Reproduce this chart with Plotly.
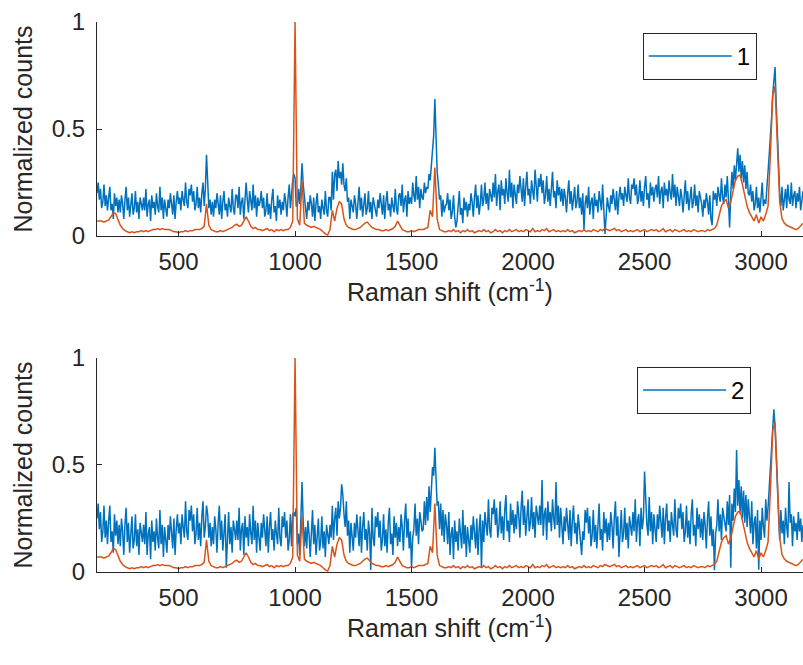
import plotly.graph_objects as go

# Raman shift grids (cm^-1)
SAMPLE_SHIFT = list(range(150, 3181, 5))      # measured spectra 1 and 2
REF_SHIFT = list(range(150, 3181, 10))        # reference spectrum

# Sample spectrum 1 (top panel), normalized counts
SPECTRUM_1 = [
    0.20, 0.25, 0.17, 0.22, 0.13, 0.16, 0.24, 0.14, 0.19, 0.12, 0.18, 0.23, 0.12, 0.15, 0.08, 0.20, 0.14, 0.18, 0.11, 0.17,
    0.11, 0.19, 0.15, 0.08, 0.17, 0.23, 0.12, 0.18, 0.09, 0.14, 0.20, 0.10, 0.13, 0.21, 0.11, 0.16, 0.08, 0.18, 0.15, 0.12,
    0.18, 0.12, 0.22, 0.09, 0.15, 0.17, 0.07, 0.19, 0.13, 0.16, 0.10, 0.20, 0.14, 0.11, 0.23, 0.12, 0.18, 0.08, 0.17, 0.13,
    0.09, 0.17, 0.13, 0.20, 0.16, 0.10, 0.19, 0.08, 0.16, 0.21, 0.15, 0.18, 0.12, 0.21, 0.17, 0.14, 0.25, 0.16, 0.13, 0.22,
    0.19, 0.24, 0.16, 0.21, 0.12, 0.15, 0.23, 0.13, 0.18, 0.11, 0.20, 0.25, 0.14, 0.22, 0.38, 0.20, 0.13, 0.17, 0.10, 0.16,
    0.09, 0.17, 0.13, 0.20, 0.16, 0.10, 0.19, 0.08, 0.16, 0.21, 0.12, 0.15, 0.09, 0.18, 0.14, 0.11, 0.22, 0.13, 0.10, 0.19,
    0.19, 0.13, 0.23, 0.10, 0.16, 0.18, 0.08, 0.20, 0.25, 0.17, 0.11, 0.21, 0.15, 0.12, 0.24, 0.13, 0.19, 0.09, 0.18, 0.14,
    0.16, 0.21, 0.13, 0.18, 0.09, 0.12, 0.20, 0.10, 0.15, 0.08, 0.17, 0.22, 0.11, 0.14, 0.07, 0.19, 0.13, 0.17, 0.10, 0.16,
    0.12, 0.20, 0.16, 0.09, 0.18, 0.24, 0.13, 0.21, 0.26, 0.29, 0.27, 0.14, 0.14, 0.22, 0.15, 0.23, 0.34, 0.24, 0.16, 0.13,
    0.08, 0.16, 0.12, 0.19, 0.15, 0.09, 0.18, 0.07, 0.15, 0.20, 0.11, 0.14, 0.08, 0.17, 0.13, 0.10, 0.21, 0.12, 0.09, 0.18,
    0.18, 0.12, 0.30, 0.17, 0.29, 0.31, 0.21, 0.35, 0.27, 0.30, 0.24, 0.34, 0.24, 0.21, 0.27, 0.16, 0.18, 0.08, 0.17, 0.13,
    0.11, 0.19, 0.15, 0.08, 0.17, 0.23, 0.12, 0.18, 0.09, 0.14, 0.20, 0.10, 0.13, 0.21, 0.11, 0.16, 0.08, 0.18, 0.15, 0.12,
    0.09, 0.17, 0.13, 0.20, 0.16, 0.10, 0.19, 0.08, 0.16, 0.21, 0.12, 0.15, 0.09, 0.18, 0.14, 0.11, 0.22, 0.13, 0.10, 0.19,
    0.20, 0.14, 0.24, 0.11, 0.17, 0.19, 0.09, 0.21, 0.15, 0.18, 0.15, 0.25, 0.19, 0.16, 0.28, 0.17, 0.23, 0.13, 0.22, 0.18,
    0.17, 0.25, 0.20, 0.23, 0.22, 0.29, 0.26, 0.33, 0.38, 0.47, 0.64, 0.45, 0.30, 0.24, 0.17, 0.19, 0.09, 0.17, 0.11, 0.14,
    0.15, 0.20, 0.12, 0.17, 0.08, 0.11, 0.19, 0.09, 0.04, 0.07, 0.16, 0.21, 0.10, 0.13, 0.06, 0.18, 0.12, 0.16, 0.09, 0.15,
    0.12, 0.20, 0.16, 0.09, 0.18, 0.24, 0.13, 0.19, 0.10, 0.15, 0.24, 0.14, 0.17, 0.25, 0.15, 0.20, 0.12, 0.22, 0.19, 0.16,
    0.25, 0.18, 0.29, 0.14, 0.21, 0.24, 0.12, 0.26, 0.19, 0.22, 0.15, 0.27, 0.20, 0.16, 0.31, 0.18, 0.25, 0.13, 0.24, 0.19,
    0.15, 0.24, 0.20, 0.28, 0.23, 0.16, 0.27, 0.14, 0.23, 0.30, 0.19, 0.22, 0.15, 0.26, 0.21, 0.17, 0.31, 0.20, 0.16, 0.27,
    0.23, 0.29, 0.20, 0.26, 0.15, 0.19, 0.28, 0.16, 0.22, 0.14, 0.24, 0.30, 0.18, 0.21, 0.13, 0.26, 0.19, 0.23, 0.16, 0.22,
    0.14, 0.22, 0.18, 0.11, 0.20, 0.26, 0.15, 0.21, 0.12, 0.17, 0.23, 0.13, 0.16, 0.24, 0.13, 0.18, 0.10, 0.20, 0.03, 0.15,
    0.19, 0.13, 0.23, 0.10, 0.16, 0.18, 0.08, 0.20, 0.14, 0.17, 0.11, 0.21, 0.15, 0.12, 0.24, 0.13, 0.01, 0.09, 0.18, 0.14,
    0.11, 0.19, 0.15, 0.22, 0.18, 0.12, 0.21, 0.10, 0.18, 0.23, 0.17, 0.20, 0.14, 0.23, 0.19, 0.16, 0.27, 0.18, 0.15, 0.24,
    0.22, 0.27, 0.19, 0.24, 0.15, 0.18, 0.26, 0.16, 0.21, 0.14, 0.23, 0.28, 0.17, 0.20, 0.13, 0.25, 0.19, 0.23, 0.16, 0.22,
    0.24, 0.18, 0.28, 0.15, 0.21, 0.23, 0.13, 0.25, 0.19, 0.22, 0.16, 0.26, 0.20, 0.17, 0.29, 0.18, 0.24, 0.14, 0.23, 0.19,
    0.14, 0.22, 0.18, 0.11, 0.20, 0.26, 0.15, 0.21, 0.12, 0.17, 0.23, 0.13, 0.16, 0.24, 0.14, 0.19, 0.11, 0.21, 0.18, 0.15,
    0.09, 0.17, 0.13, 0.20, 0.16, 0.10, 0.19, 0.08, 0.05, 0.21, 0.17, 0.20, 0.14, 0.23, 0.19, 0.16, 0.27, 0.18, 0.15, 0.24,
    0.18, 0.28, 0.17, 0.04, 0.20, 0.30, 0.22, 0.33, 0.26, 0.37, 0.41, 0.30, 0.38, 0.27, 0.35, 0.25, 0.33, 0.22, 0.30, 0.20,
    0.19, 0.24, 0.16, 0.21, 0.12, 0.15, 0.23, 0.13, 0.18, 0.11, 0.20, 0.25, 0.14, 0.17, 0.15, 0.26, 0.30, 0.38, 0.45, 0.55,
    0.66, 0.72, 0.79, 0.62, 0.48, 0.30, 0.20, 0.14, 0.23, 0.12, 0.18, 0.22, 0.13, 0.24, 0.17, 0.15, 0.25, 0.14, 0.19, 0.21,
    0.13, 0.20, 0.16, 0.23, 0.12, 0.18, 0.21,
]

# Sample spectrum 2 (bottom panel), normalized counts
SPECTRUM_2 = [
    0.25, 0.32, 0.20, 0.28, 0.14, 0.19, 0.31, 0.16, 0.24, 0.13, 0.24, 0.31, 0.14, 0.19, 0.09, 0.27, 0.17, 0.24, 0.13, 0.22,
    0.12, 0.25, 0.19, 0.08, 0.22, 0.30, 0.14, 0.23, 0.09, 0.17, 0.26, 0.11, 0.15, 0.27, 0.12, 0.20, 0.08, 0.23, 0.19, 0.14,
    0.22, 0.13, 0.28, 0.08, 0.18, 0.21, 0.06, 0.24, 0.14, 0.19, 0.10, 0.25, 0.16, 0.11, 0.29, 0.13, 0.22, 0.07, 0.21, 0.14,
    0.09, 0.22, 0.15, 0.26, 0.20, 0.11, 0.25, 0.08, 0.20, 0.27, 0.18, 0.23, 0.13, 0.27, 0.21, 0.16, 0.33, 0.19, 0.15, 0.29,
    0.24, 0.31, 0.19, 0.27, 0.13, 0.18, 0.30, 0.15, 0.23, 0.12, 0.26, 0.33, 0.16, 0.21, 0.31, 0.27, 0.16, 0.23, 0.12, 0.21,
    0.13, 0.26, 0.20, 0.09, 0.23, 0.31, 0.15, 0.24, 0.10, 0.18, 0.27, 0.02, 0.16, 0.28, 0.13, 0.21, 0.09, 0.24, 0.20, 0.15,
    0.24, 0.15, 0.30, 0.10, 0.20, 0.23, 0.08, 0.26, 0.16, 0.21, 0.12, 0.27, 0.18, 0.13, 0.31, 0.15, 0.24, 0.09, 0.23, 0.16,
    0.10, 0.23, 0.16, 0.27, 0.21, 0.12, 0.26, 0.09, 0.21, 0.28, 0.15, 0.20, 0.10, 0.24, 0.18, 0.13, 0.30, 0.16, 0.12, 0.26,
    0.21, 0.28, 0.16, 0.24, 0.10, 0.15, 0.27, 0.12, 0.27, 0.28, 0.26, 0.30, 0.13, 0.18, 0.08, 0.26, 0.42, 0.23, 0.12, 0.21,
    0.11, 0.24, 0.18, 0.07, 0.21, 0.29, 0.13, 0.22, 0.08, 0.16, 0.25, 0.10, 0.14, 0.26, 0.11, 0.19, 0.07, 0.22, 0.18, 0.13,
    0.22, 0.16, 0.31, 0.15, 0.25, 0.30, 0.17, 0.33, 0.25, 0.30, 0.41, 0.36, 0.27, 0.21, 0.33, 0.17, 0.24, 0.09, 0.23, 0.16,
    0.10, 0.23, 0.16, 0.27, 0.21, 0.12, 0.26, 0.09, 0.21, 0.28, 0.15, 0.20, 0.10, 0.24, 0.18, 0.01, 0.30, 0.16, 0.12, 0.26,
    0.21, 0.28, 0.16, 0.24, 0.10, 0.15, 0.27, 0.12, 0.20, 0.09, 0.23, 0.30, 0.13, 0.18, 0.08, 0.26, 0.16, 0.23, 0.12, 0.21,
    0.14, 0.27, 0.21, 0.10, 0.24, 0.32, 0.16, 0.25, 0.11, 0.19, 0.02, 0.16, 0.20, 0.32, 0.17, 0.25, 0.13, 0.28, 0.24, 0.19,
    0.20, 0.33, 0.22, 0.35, 0.24, 0.40, 0.28, 0.43, 0.49, 0.45, 0.58, 0.44, 0.31, 0.33, 0.20, 0.32, 0.17, 0.29, 0.14, 0.27,
    0.22, 0.13, 0.28, 0.08, 0.18, 0.21, 0.06, 0.24, 0.14, 0.19, 0.10, 0.25, 0.16, 0.11, 0.29, 0.13, 0.22, 0.07, 0.21, 0.14,
    0.09, 0.22, 0.15, 0.26, 0.20, 0.11, 0.25, 0.08, 0.20, 0.27, 0.02, 0.24, 0.14, 0.28, 0.22, 0.17, 0.34, 0.20, 0.16, 0.30,
    0.27, 0.34, 0.22, 0.30, 0.16, 0.21, 0.33, 0.18, 0.26, 0.15, 0.29, 0.36, 0.19, 0.24, 0.14, 0.32, 0.22, 0.29, 0.18, 0.27,
    0.20, 0.33, 0.27, 0.16, 0.30, 0.38, 0.22, 0.31, 0.17, 0.25, 0.34, 0.19, 0.23, 0.35, 0.20, 0.28, 0.16, 0.31, 0.27, 0.22,
    0.31, 0.22, 0.43, 0.17, 0.27, 0.30, 0.15, 0.33, 0.23, 0.28, 0.19, 0.34, 0.25, 0.20, 0.42, 0.22, 0.31, 0.16, 0.30, 0.23,
    0.13, 0.26, 0.19, 0.30, 0.24, 0.15, 0.29, 0.12, 0.24, 0.31, 0.18, 0.23, 0.13, 0.27, 0.21, 0.16, 0.08, 0.19, 0.15, 0.29,
    0.23, 0.30, 0.18, 0.26, 0.12, 0.17, 0.29, 0.14, 0.22, 0.11, 0.25, 0.32, 0.15, 0.20, 0.10, 0.28, 0.18, 0.25, 0.14, 0.23,
    0.15, 0.28, 0.22, 0.11, 0.25, 0.33, 0.17, 0.26, 0.07, 0.20, 0.29, 0.14, 0.18, 0.30, 0.15, 0.23, 0.11, 0.26, 0.22, 0.17,
    0.28, 0.19, 0.34, 0.14, 0.24, 0.27, 0.12, 0.30, 0.20, 0.25, 0.47, 0.31, 0.22, 0.17, 0.35, 0.19, 0.28, 0.13, 0.27, 0.20,
    0.14, 0.27, 0.20, 0.31, 0.25, 0.16, 0.30, 0.13, 0.25, 0.32, 0.19, 0.24, 0.14, 0.28, 0.22, 0.17, 0.34, 0.20, 0.16, 0.30,
    0.25, 0.32, 0.20, 0.28, 0.14, 0.19, 0.31, 0.16, 0.24, 0.13, 0.27, 0.34, 0.17, 0.22, 0.12, 0.30, 0.20, 0.27, 0.16, 0.25,
    0.15, 0.28, 0.22, 0.11, 0.25, 0.33, 0.17, 0.26, 0.12, 0.20, 0.01, 0.18, 0.22, 0.34, 0.19, 0.27, 0.15, 0.30, 0.26, 0.21,
    0.19, 0.33, 0.22, 0.36, 0.02, 0.32, 0.24, 0.39, 0.28, 0.57, 0.31, 0.43, 0.27, 0.40, 0.25, 0.38, 0.23, 0.36, 0.21, 0.34,
    0.27, 0.18, 0.33, 0.13, 0.23, 0.26, 0.11, 0.29, 0.01, 0.24, 0.15, 0.30, 0.21, 0.16, 0.34, 0.24, 0.30, 0.40, 0.45, 0.58,
    0.70, 0.76, 0.68, 0.52, 0.38, 0.27, 0.15, 0.29, 0.18, 0.24, 0.13, 0.30, 0.21, 0.16, 0.42, 0.23, 0.27, 0.12, 0.26, 0.19,
    0.23, 0.15, 0.28, 0.19, 0.25, 0.14, 0.22,
]

# Reference spectrum (orange, drawn in both panels), normalized counts
REFERENCE = [
    0.07, 0.07, 0.07, 0.065, 0.07, 0.075, 0.09, 0.11, 0.105, 0.08,
    0.05, 0.035, 0.025, 0.02, 0.015, 0.02, 0.015, 0.02, 0.02, 0.025,
    0.02, 0.025, 0.02, 0.025, 0.03, 0.03, 0.035, 0.03, 0.035, 0.03,
    0.03, 0.03, 0.025, 0.02, 0.02, 0.015, 0.02, 0.02, 0.025, 0.02,
    0.025, 0.025, 0.03, 0.03, 0.03, 0.035, 0.045, 0.15, 0.05, 0.03,
    0.025, 0.02, 0.02, 0.025, 0.02, 0.025, 0.03, 0.035, 0.04, 0.05,
    0.055, 0.045, 0.05, 0.07, 0.09, 0.07, 0.045, 0.035, 0.04, 0.03,
    0.03, 0.025, 0.03, 0.035, 0.025, 0.03, 0.02, 0.03, 0.025, 0.03,
    0.025, 0.03, 0.03, 0.04, 0.07, 1.0, 0.08, 0.05, 0.26, 0.06,
    0.05, 0.045, 0.04, 0.045, 0.04, 0.035, 0.03, 0.02, 0.01, 0.005,
    0.03, 0.12, 0.07, 0.13, 0.16, 0.15, 0.08, 0.05, 0.04, 0.035,
    0.03, 0.03, 0.035, 0.04, 0.05, 0.06, 0.065, 0.05, 0.04, 0.035,
    0.03, 0.03, 0.025, 0.025, 0.03, 0.025, 0.03, 0.035, 0.045, 0.07,
    0.05, 0.03, 0.025, 0.02, 0.02, 0.025, 0.02, 0.025, 0.03, 0.03,
    0.03, 0.035, 0.04, 0.12, 0.09, 0.32, 0.08, 0.03, 0.025, 0.02,
    0.02, 0.025, 0.02, 0.03, 0.02, 0.025, 0.015, 0.025, 0.02, 0.03,
    0.02, 0.025, 0.015, 0.02, 0.025, 0.02, 0.03, 0.02, 0.025, 0.015,
    0.02, 0.03, 0.02, 0.025, 0.015, 0.025, 0.02, 0.03, 0.02, 0.025,
    0.03, 0.02, 0.025, 0.02, 0.03, 0.025, 0.02, 0.035, 0.02, 0.025,
    0.02, 0.03, 0.025, 0.035, 0.02, 0.025, 0.03, 0.02, 0.025, 0.02,
    0.025, 0.02, 0.03, 0.02, 0.025, 0.015, 0.02, 0.025, 0.02, 0.03,
    0.02, 0.025, 0.02, 0.03, 0.025, 0.02, 0.03, 0.025, 0.035, 0.03,
    0.025, 0.03, 0.035, 0.025, 0.03, 0.02, 0.025, 0.03, 0.02, 0.025,
    0.02, 0.025, 0.03, 0.02, 0.025, 0.03, 0.02, 0.025, 0.03, 0.025,
    0.03, 0.02, 0.025, 0.035, 0.02, 0.025, 0.03, 0.02, 0.03, 0.025,
    0.02, 0.025, 0.03, 0.02, 0.025, 0.02, 0.03, 0.025, 0.02, 0.025,
    0.025, 0.02, 0.03, 0.025, 0.03, 0.035, 0.05, 0.09, 0.14, 0.16,
    0.17, 0.13, 0.16, 0.21, 0.26, 0.28, 0.285, 0.24, 0.19, 0.14,
    0.11, 0.09, 0.07, 0.10, 0.06, 0.09, 0.07, 0.10, 0.14, 0.38,
    0.66, 0.70, 0.45, 0.16, 0.08, 0.06, 0.05, 0.045, 0.04, 0.035,
    0.03, 0.035, 0.05, 0.06,
]

X_TICKS = [500, 1000, 1500, 2000, 2500, 3000]
Y_TICKS = [0, 0.5, 1]
Y_TICK_TEXT = ["0", "0.5", "1"]

assert len(SPECTRUM_1) == len(SAMPLE_SHIFT), len(SPECTRUM_1)
assert len(SPECTRUM_2) == len(SAMPLE_SHIFT), len(SPECTRUM_2)
assert len(REFERENCE) == len(REF_SHIFT), len(REFERENCE)

BLUE = "#0072BD"
ORANGE = "#D95319"
AXIS = "#262626"
FONT = "Liberation Sans, Arial, Helvetica, sans-serif"

fig = go.Figure()
fig.add_trace(go.Scatter(x=SAMPLE_SHIFT, y=SPECTRUM_1, mode="lines", name="1",
                         line=dict(color=BLUE, width=1.5), xaxis="x", yaxis="y",
                         legend="legend"))
fig.add_trace(go.Scatter(x=REF_SHIFT, y=REFERENCE, mode="lines", showlegend=False,
                         line=dict(color=ORANGE, width=1.5), xaxis="x", yaxis="y"))
fig.add_trace(go.Scatter(x=SAMPLE_SHIFT, y=SPECTRUM_2, mode="lines", name="2",
                         line=dict(color=BLUE, width=1.5), xaxis="x2", yaxis="y2",
                         legend="legend2"))
fig.add_trace(go.Scatter(x=REF_SHIFT, y=REFERENCE, mode="lines", showlegend=False,
                         line=dict(color=ORANGE, width=1.5), xaxis="x2", yaxis="y2"))

xcommon = dict(range=[150, 3180], tickvals=X_TICKS, ticks="inside", ticklen=5,
               tickcolor=AXIS, showline=True, linecolor=AXIS, linewidth=1,
               showgrid=False, zeroline=False, mirror=False, automargin=False,
               ticklabelstandoff=4,
               tickfont=dict(size=24, color=AXIS, family=FONT),
               title=dict(text="Raman shift (cm<sup>-1</sup>)",
                          font=dict(size=25, color=AXIS, family=FONT), standoff=6))
ycommon = dict(range=[0, 1], tickvals=Y_TICKS, ticktext=Y_TICK_TEXT, ticks="inside",
               ticklen=5, tickcolor=AXIS, showline=True, linecolor=AXIS, linewidth=1,
               showgrid=False, zeroline=False, mirror=False, automargin=False,
               ticklabelstandoff=6,
               tickfont=dict(size=24, color=AXIS, family=FONT),
               title=dict(text="Normalized counts",
                          font=dict(size=25, color=AXIS, family=FONT), standoff=12))

legcommon = dict(bgcolor="white", bordercolor=AXIS, borderwidth=1,
                 font=dict(size=24, color="#000000", family=FONT),
                 xanchor="left", yanchor="top", itemwidth=83)

fig.update_layout(
    width=803, height=665,
    margin=dict(l=97, r=0, t=22, b=93, autoexpand=False),
    plot_bgcolor="white", paper_bgcolor="white",
    font=dict(family=FONT, color=AXIS),
    xaxis=dict(domain=[0, 1], anchor="y", **xcommon),
    yaxis=dict(domain=[0.6109, 1], anchor="x", **ycommon),
    xaxis2=dict(domain=[0, 1], anchor="y2", **xcommon),
    yaxis2=dict(domain=[0, 0.3891], anchor="x2", **ycommon),
    legend=dict(x=0.773, y=0.98, **legcommon),
    legend2=dict(x=0.765, y=0.3727, **legcommon),
)

# Remove the page's default body margin so the 803x665 figure fills the window.
fig.write_html("out.html",
               config={"displayModeBar": False},
               post_script="document.body.style.margin='0px';document.body.style.overflow='hidden';")
